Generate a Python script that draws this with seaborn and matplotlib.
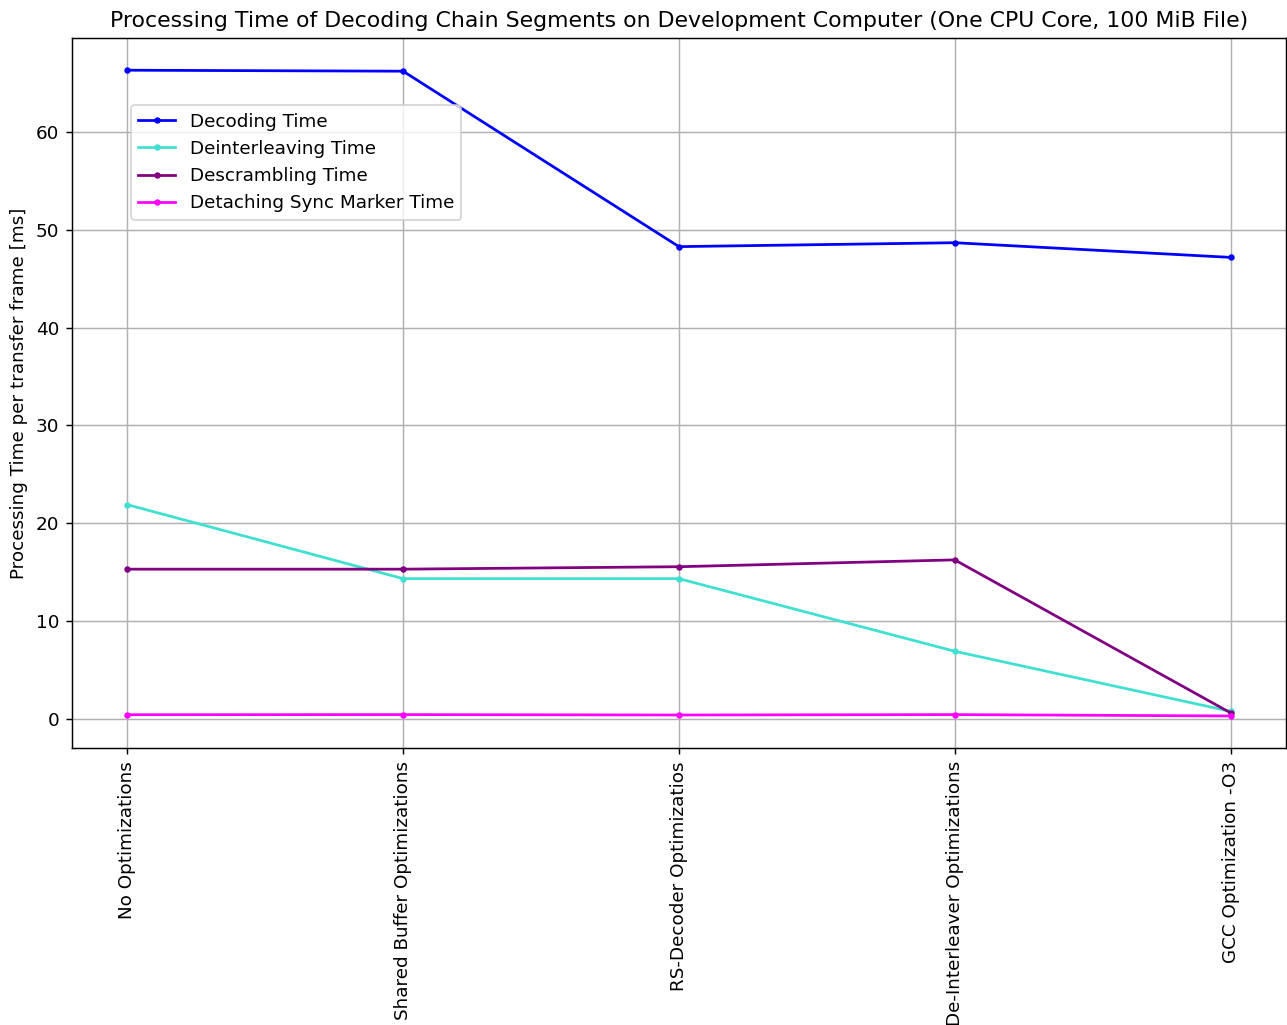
import pandas as pd
import matplotlib
matplotlib.use("Agg")
import matplotlib.pyplot as plt
import seaborn as sns

STAGES = ['No Optimizations', 'Shared Buffer Optimizations', 'RS-Decoder Optimizatios',
          'De-Interleaver Optimizations', 'GCC Optimization -O3']

decoding = [66.35, 66.25, 48.3, 48.7, 47.2]
deinterleaving = [21.9, 14.33, 14.33, 6.9, 0.75]
descrambling = [15.3, 15.3, 15.55, 16.25, 0.6]
detaching = [0.41, 0.42, 0.38, 0.42, 0.28]

SERIES = ['Decoding Time', 'Deinterleaving Time', 'Descrambling Time', 'Detaching Sync Marker Time']
COLORS = ['blue', 'turquoise', 'purple', 'magenta']

DPI = 132


def main():
    values = [decoding, deinterleaving, descrambling, detaching]
    fig, ax = plt.subplots(figsize=(1287 / DPI, 1025 / DPI), dpi=DPI)

    for name, vals, color in zip(SERIES, values, COLORS):
        df = pd.DataFrame({'stage': STAGES, 'time': vals})
        sns.lineplot(data=df, x='stage', y='time', ax=ax, color=color, label=name,
                     marker='o', markersize=3.5, markeredgewidth=0, linewidth=1.5, sort=False)

    ax.grid(True, color='#b0b0b0', linewidth=0.8)
    ax.set_axisbelow(True)
    ax.set_xlabel('')
    ax.set_ylabel('Processing Time per transfer frame [ms]')
    ax.set_title('Processing Time of Decoding Chain Segments on Development Computer '
                 '(One CPU Core, 100 MiB File)')
    plt.setp(ax.get_xticklabels(), rotation=90)
    ax.legend(loc='upper left', bbox_to_anchor=(0.041, 0.918))

    fig.subplots_adjust(left=0.056, right=0.999, top=0.963, bottom=0.27)
    fig.savefig('out.png', dpi=DPI)


if __name__ == "__main__":
    main()
